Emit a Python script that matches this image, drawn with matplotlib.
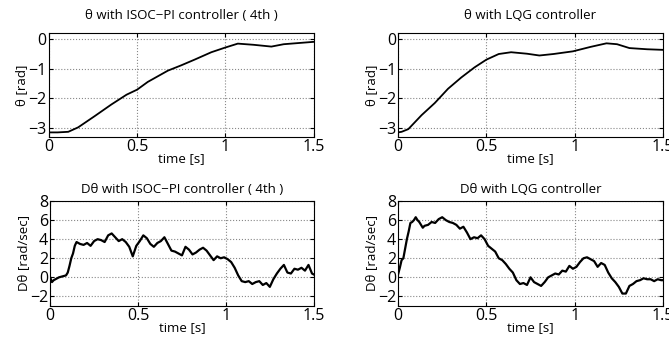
import matplotlib
matplotlib.use('Agg')
from matplotlib import pyplot as plt

plt.rcParams['font.family'] = ['Open Sans', 'DejaVu Sans']
plt.rcParams['xtick.direction'] = 'in'
plt.rcParams['ytick.direction'] = 'in'

# ---- theta, ISOC-PI ----
t_th_isoc = [0, 0.05, 0.11, 0.166, 0.26, 0.354, 0.44, 0.5, 0.56, 0.674, 0.75, 0.825,
             0.92, 1.0, 1.07, 1.16, 1.26, 1.33, 1.5]
th_isoc = [-3.15, -3.15, -3.13, -2.98, -2.6, -2.21, -1.88, -1.71, -1.45, -1.07, -0.89,
           -0.7, -0.45, -0.29, -0.16, -0.2, -0.26, -0.18, -0.1]

# ---- theta, LQG ----
t_th_lqg = [0, 0.02, 0.058, 0.133, 0.208, 0.283, 0.358, 0.433, 0.5, 0.57, 0.64, 0.73,
            0.8, 0.88, 0.99, 1.09, 1.18, 1.24, 1.31, 1.41, 1.5]
th_lqg = [-3.15, -3.13, -3.04, -2.57, -2.16, -1.68, -1.3, -0.96, -0.7, -0.51, -0.45,
          -0.5, -0.56, -0.51, -0.42, -0.27, -0.15, -0.18, -0.31, -0.35, -0.37]

# ---- Dtheta, ISOC-PI ----
t_d_isoc = [0, 0.01, 0.02, 0.03, 0.05, 0.07, 0.09, 0.10, 0.11, 0.12, 0.13, 0.14, 0.15,
            0.17, 0.19, 0.21, 0.23, 0.25, 0.27, 0.29, 0.31, 0.33, 0.35, 0.37, 0.39,
            0.41, 0.43, 0.45, 0.47, 0.49, 0.51, 0.53, 0.55, 0.57, 0.59, 0.61, 0.63,
            0.65, 0.67, 0.69, 0.71, 0.73, 0.75, 0.77, 0.79, 0.81, 0.83, 0.85, 0.87,
            0.89, 0.91, 0.93, 0.95, 0.97, 0.99, 1.01, 1.03, 1.05, 1.07, 1.09, 1.11,
            1.13, 1.15, 1.17, 1.19, 1.21, 1.23, 1.25, 1.27, 1.29, 1.31, 1.33, 1.35,
            1.37, 1.39, 1.41, 1.43, 1.45, 1.47, 1.49, 1.50]
d_isoc = [0.0, -0.5, -0.3, -0.2, 0.0, 0.1, 0.2, 0.5, 1.2, 2.0, 2.5, 3.3, 3.7,
          3.5, 3.4, 3.6, 3.3, 3.8, 4.0, 3.9, 3.7, 4.4, 4.6, 4.2, 3.8,
          4.0, 3.7, 3.2, 2.2, 3.3, 3.8, 4.4, 4.1, 3.5, 3.2, 3.6, 3.8,
          4.2, 3.5, 2.8, 2.7, 2.5, 2.3, 3.2, 2.9, 2.4, 2.6, 2.9, 3.1,
          2.8, 2.3, 1.8, 2.2, 2.0, 2.1, 1.9, 1.6, 1.0, 0.2, -0.4, -0.5,
          -0.4, -0.7, -0.5, -0.4, -0.8, -0.6, -1.0, -0.2, 0.4, 0.9, 1.3, 0.5,
          0.4, 0.9, 0.8, 1.0, 0.7, 1.3, 0.4, 0.3]

# ---- Dtheta, LQG ----
t_d_lqg = [0, 0.01, 0.02, 0.03, 0.04, 0.05, 0.06, 0.07, 0.08, 0.09, 0.10, 0.11, 0.12,
           0.13, 0.14, 0.15, 0.17, 0.19, 0.21, 0.23, 0.25, 0.27, 0.29, 0.31, 0.33,
           0.35, 0.37, 0.39, 0.41, 0.43, 0.45, 0.47, 0.49, 0.51, 0.53, 0.55, 0.57,
           0.59, 0.61, 0.63, 0.65, 0.67, 0.69, 0.71, 0.73, 0.75, 0.77, 0.79, 0.81,
           0.83, 0.85, 0.87, 0.89, 0.91, 0.93, 0.95, 0.97, 0.99, 1.01, 1.03, 1.05,
           1.07, 1.09, 1.11, 1.13, 1.15, 1.17, 1.19, 1.21, 1.23, 1.25, 1.27, 1.29,
           1.31, 1.33, 1.35, 1.37, 1.39, 1.41, 1.43, 1.45, 1.47, 1.49, 1.50]
d_lqg = [0.3, 1.0, 1.8, 2.0, 3.0, 4.0, 4.8, 5.7, 5.8, 6.0, 6.3, 6.0, 5.8,
         5.5, 5.2, 5.4, 5.5, 5.8, 5.7, 6.1, 6.3, 6.0, 5.8, 5.7, 5.5,
         5.1, 5.3, 4.7, 4.0, 4.2, 4.1, 4.4, 4.0, 3.3, 3.0, 2.7, 2.0,
         1.8, 1.4, 0.9, 0.5, -0.3, -0.7, -0.6, -0.8, 0.0, -0.5, -0.7, -0.9,
         -0.5, 0.0, 0.2, 0.4, 0.3, 0.7, 0.6, 1.2, 0.9, 1.1, 1.6, 2.0,
         2.1, 1.9, 1.7, 1.1, 1.5, 1.3, 0.5, -0.1, -0.5, -1.0, -1.7, -1.7,
         -0.9, -0.7, -0.4, -0.3, -0.1, -0.2, -0.2, -0.4, -0.2, -0.3, -0.3]

titles = ['\u03b8 with ISOC\u2212PI controller ( 4th )', '\u03b8 with LQG controller',
          'D\u03b8 with ISOC\u2212PI controller ( 4th )', 'D\u03b8 with LQG controller']

fig = plt.figure(figsize=(6.69, 3.43), dpi=100)
pos = [[0.073, 0.601, 0.396, 0.303], [0.595, 0.601, 0.396, 0.303],
       [0.075, 0.108, 0.394, 0.306], [0.595, 0.108, 0.396, 0.306]]
data = [(t_th_isoc, th_isoc), (t_th_lqg, th_lqg), (t_d_isoc, d_isoc), (t_d_lqg, d_lqg)]

for i in range(4):
    ax = fig.add_axes(pos[i])
    x, y = data[i]
    lw = 1.3 if i < 2 else 1.6
    ax.plot(x, y, color='black', lw=lw)
    ax.set_xlim(0, 1.5)
    ax.set_xticks([0, 0.5, 1, 1.5])
    ax.set_xticklabels(['0', '0.5', '1', '1.5'])
    if i < 2:
        ax.set_ylim(-3.3, 0.2)
        ax.set_yticks([-3, -2, -1, 0])
        ax.set_ylabel('\u03b8 [rad]', fontsize=9.5, labelpad=0)
    else:
        ax.set_ylim(-3, 8)
        ax.set_yticks([-2, 0, 2, 4, 6, 8])
        ax.set_ylabel('D\u03b8 [rad/sec]', fontsize=9.5, labelpad=0)
    ax.grid(True, linestyle=':', color='#888888', lw=0.8)
    ax.tick_params(labelsize=11.5, length=3, top=True, right=True, pad=1.5)
    ax.set_xlabel('time [s]', fontsize=9.5, labelpad=-2)
    ax.set_title(titles[i], fontsize=9.5, pad=10 if i < 2 else 6)
    for s in ax.spines.values():
        s.set_linewidth(0.8)

fig.savefig('out.png', dpi=100)
